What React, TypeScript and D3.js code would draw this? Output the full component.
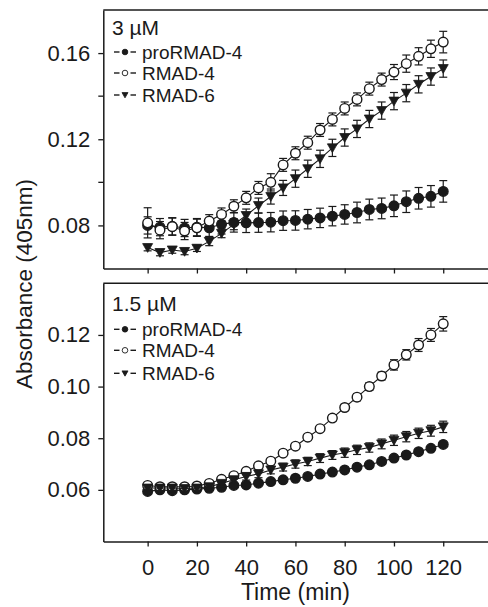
import React, { useEffect, useRef } from "react";
import * as d3 from "d3";

// time points (min)
const times = [
  0, 5, 10, 15, 20, 25, 30, 35, 40, 45, 50, 55, 60, 65, 70, 75, 80, 85, 90,
  95, 100, 105, 110, 115, 120,
];
const xTicks = [0, 20, 40, 60, 80, 100, 120];

// 3 uM panel
const topPro = [
  0.08, 0.0792, 0.0796, 0.0788, 0.0792, 0.0789, 0.0805, 0.0814, 0.0812,
  0.0813, 0.0815, 0.0822, 0.0823, 0.0829, 0.0835, 0.0843, 0.0851, 0.086,
  0.0874, 0.0879, 0.0891, 0.091, 0.0926, 0.0935, 0.0958,
];
const topProErr = [
  0.004, 0.004, 0.004, 0.004, 0.004, 0.004, 0.0045, 0.0045, 0.0045, 0.0045,
  0.0045, 0.0045, 0.0045, 0.0045, 0.0045, 0.0045, 0.0045, 0.0048, 0.0048,
  0.0048, 0.005, 0.005, 0.005, 0.005, 0.005,
];
const topR4 = [
  0.0812, 0.0778, 0.0794, 0.0774, 0.0789, 0.082, 0.0851, 0.0889, 0.0928,
  0.0974, 0.1, 0.1081, 0.1135, 0.1184, 0.1243, 0.1292, 0.1343, 0.1385,
  0.1435, 0.1477, 0.1512, 0.1551, 0.1585, 0.162, 0.1651,
];
const topR4Err = [
  0.007, 0.004, 0.004, 0.004, 0.004, 0.003, 0.003, 0.003, 0.003, 0.003,
  0.004, 0.003, 0.003, 0.003, 0.003, 0.003, 0.003, 0.003, 0.003, 0.003,
  0.0035, 0.004, 0.004, 0.004, 0.005,
];
const topR6 = [
  0.0697, 0.0674, 0.0686, 0.0679, 0.0694, 0.0726, 0.0763, 0.0805, 0.0846,
  0.0892, 0.0934, 0.0974, 0.1017, 0.1063, 0.1109, 0.116, 0.1208, 0.1248,
  0.1294, 0.1333, 0.1377, 0.1414, 0.1455, 0.1491, 0.1528,
];
const topR6Err = [
  0.0015, 0.0015, 0.0015, 0.0015, 0.0015, 0.002, 0.002, 0.0025, 0.003,
  0.0035, 0.0035, 0.0035, 0.004, 0.004, 0.004, 0.004, 0.004, 0.004, 0.004,
  0.004, 0.004, 0.004, 0.004, 0.004, 0.004,
];

// 1.5 uM panel
const botPro = [
  0.0594, 0.06, 0.0597, 0.06, 0.0603, 0.0606, 0.061, 0.0617, 0.0619, 0.0626,
  0.0632, 0.0639, 0.0645, 0.0652, 0.0661, 0.0669, 0.0677, 0.0688, 0.0697,
  0.071, 0.0723, 0.0735, 0.0748, 0.0761, 0.0776,
];
const botProErr = [
  0.0008, 0.0008, 0.0008, 0.0008, 0.0008, 0.0008, 0.0008, 0.0008, 0.0008,
  0.0008, 0.0008, 0.0008, 0.0008, 0.0008, 0.0008, 0.0008, 0.0008, 0.0008,
  0.0008, 0.0008, 0.0008, 0.0008, 0.0008, 0.0008, 0.0008,
];
const botR4 = [
  0.0617, 0.0612, 0.0612, 0.0612, 0.0615, 0.0625, 0.0641, 0.0655, 0.0672,
  0.0693, 0.0711, 0.0742, 0.0769, 0.0804, 0.0837, 0.0878, 0.0919, 0.0959,
  0.1, 0.1041, 0.1084, 0.1123, 0.1161, 0.12, 0.1243,
];
const botR4Err = [
  0.001, 0.001, 0.001, 0.001, 0.001, 0.001, 0.001, 0.001, 0.001, 0.001,
  0.001, 0.001, 0.001, 0.001, 0.001, 0.0012, 0.0012, 0.0014, 0.0015, 0.0015,
  0.002, 0.002, 0.0025, 0.0025, 0.0028,
];
const botR6 = [
  0.0607, 0.0607, 0.0607, 0.0605, 0.0607, 0.0612, 0.0625, 0.0639, 0.0652,
  0.0662, 0.0677, 0.0688, 0.07, 0.071, 0.0723, 0.0735, 0.0744, 0.0755,
  0.0764, 0.0778, 0.0792, 0.0806, 0.0819, 0.0829, 0.0844,
];
const botR6Err = [
  0.001, 0.001, 0.001, 0.001, 0.001, 0.0012, 0.0012, 0.0013, 0.0014, 0.0015,
  0.0015, 0.0015, 0.0016, 0.0016, 0.0017, 0.0017, 0.0018, 0.0018, 0.0018,
  0.0019, 0.002, 0.002, 0.002, 0.0021, 0.0022,
];

const seriesNames = ["proRMAD-4", "RMAD-4", "RMAD-6"];
const topYTicks = [0.08, 0.12, 0.16];
const topYMinor = [0.1, 0.14];
const botYTicks = [0.06, 0.08, 0.1, 0.12];

const FONT = "'Liberation Sans', Arial, sans-serif";
const INK = "#1a1a1a";

type Series = { name: string; vals: number[]; errs: number[]; shape: string };

const trianglePath = (s: number) =>
  `M${-s},${-s * 0.8}L${s},${-s * 0.8}L0,${s * 0.95}Z`;

const App = () => {
  const svgRef = useRef<SVGSVGElement>(null);

  useEffect(() => {
    const width = 488;
    const height = 607;
    const left = 103.3;

    const x = d3.scaleLinear().domain([-18, 140]).range([left, 492.5]);

    const svg = d3.select(svgRef.current);
    svg.selectAll("*").remove();

    const panels = [
      {
        title: "3 µM",
        top: 10,
        bottom: 268.5,
        domain: [0.06, 0.18],
        ticks: topYTicks,
        minor: topYMinor,
        xLabels: false,
        legendTop: 17,
        legendRows: [42, 63, 85],
        series: [
          { name: seriesNames[0], vals: topPro, errs: topProErr, shape: "filled" },
          { name: seriesNames[1], vals: topR4, errs: topR4Err, shape: "open" },
          { name: seriesNames[2], vals: topR6, errs: topR6Err, shape: "tri" },
        ] as Series[],
      },
      {
        title: "1.5 µM",
        top: 283.3,
        bottom: 541.5,
        domain: [0.04, 0.14],
        ticks: botYTicks,
        minor: [] as number[],
        xLabels: true,
        legendTop: 20,
        legendRows: [46, 67, 90],
        series: [
          { name: seriesNames[0], vals: botPro, errs: botProErr, shape: "filled" },
          { name: seriesNames[1], vals: botR4, errs: botR4Err, shape: "open" },
          { name: seriesNames[2], vals: botR6, errs: botR6Err, shape: "tri" },
        ] as Series[],
      },
    ];

    const drawMarker = (
      g: d3.Selection<SVGGElement, unknown, null, undefined>,
      shape: string,
      cx: number,
      cy: number,
      r: number,
      sw: number
    ) => {
      if (shape === "tri") {
        g.append("path")
          .attr("d", trianglePath(r))
          .attr("transform", `translate(${cx},${cy})`)
          .attr("fill", INK)
          .attr("stroke", INK)
          .attr("stroke-width", 0.8);
      } else {
        g.append("circle")
          .attr("cx", cx)
          .attr("cy", cy)
          .attr("r", r)
          .attr("fill", shape === "open" ? "#fff" : INK)
          .attr("stroke", INK)
          .attr("stroke-width", sw);
      }
    };

    panels.forEach((p) => {
      const y = d3
        .scaleLinear()
        .domain(p.domain)
        .range([p.bottom, p.top]);

      const g = svg.append("g");

      // frame top edge (right side runs off the picture)
      g.append("line")
        .attr("x1", left)
        .attr("x2", width + 10)
        .attr("y1", p.top)
        .attr("y2", p.top)
        .attr("stroke", INK)
        .attr("stroke-width", 1.5);

      // y axis
      const yAxis = g
        .append("g")
        .attr("transform", `translate(${left},0)`)
        .call(
          d3
            .axisLeft(y)
            .tickValues(p.ticks)
            .tickSize(5)
            .tickSizeOuter(0)
            .tickPadding(8)
            .tickFormat(d3.format(".2f") as any)
        );
      yAxis.select(".domain").attr("stroke", INK).attr("stroke-width", 1.5);
      yAxis.selectAll(".tick line").attr("stroke", INK).attr("stroke-width", 1.3);
      yAxis
        .selectAll("text")
        .attr("font-family", FONT)
        .attr("font-size", 22)
        .attr("fill", INK);
      p.minor.forEach((v) => {
        g.append("line")
          .attr("x1", left - 5)
          .attr("x2", left)
          .attr("y1", y(v))
          .attr("y2", y(v))
          .attr("stroke", INK)
          .attr("stroke-width", 1.3);
      });

      // x axis
      const xAxis = g
        .append("g")
        .attr("transform", `translate(0,${p.bottom})`)
        .call(
          d3
            .axisBottom(x)
            .tickValues(xTicks)
            .tickSize(5)
            .tickSizeOuter(0)
            .tickPadding(12.5)
            .tickFormat((d) => (p.xLabels ? String(d) : ""))
        );
      xAxis.select(".domain").attr("stroke", INK).attr("stroke-width", 1.5);
      xAxis.selectAll(".tick line").attr("stroke", INK).attr("stroke-width", 1.3);
      xAxis
        .selectAll("text")
        .attr("font-family", FONT)
        .attr("font-size", 22)
        .attr("fill", INK);

      // data
      const line = d3
        .line<number>()
        .x((_, i) => x(times[i]))
        .y((v) => y(v));

      p.series.forEach((s) => {
        const sg = g.append("g");
        sg.append("path")
          .attr("d", line(s.vals))
          .attr("fill", "none")
          .attr("stroke", INK)
          .attr("stroke-width", 1.1);

        s.vals.forEach((v, i) => {
          const cx = x(times[i]);
          const y0 = y(v - s.errs[i]);
          const y1 = y(v + s.errs[i]);
          sg.append("line")
            .attr("x1", cx)
            .attr("x2", cx)
            .attr("y1", y0)
            .attr("y2", y1)
            .attr("stroke", INK)
            .attr("stroke-width", 1.2);
          [y0, y1].forEach((yy) => {
            sg.append("line")
              .attr("x1", cx - 4)
              .attr("x2", cx + 4)
              .attr("y1", yy)
              .attr("y2", yy)
              .attr("stroke", INK)
              .attr("stroke-width", 1.2);
          });
        });
        s.vals.forEach((v, i) => {
          drawMarker(sg, s.shape, x(times[i]), y(v), s.shape === "tri" ? 5 : 4.8, 1.4);
        });
      });

      // legend
      g.append("text")
        .attr("x", 112)
        .attr("y", p.top + p.legendTop)
        .attr("dominant-baseline", "central")
        .attr("font-family", FONT)
        .attr("font-size", 21)
        .attr("fill", INK)
        .text(p.title);

      p.series.forEach((s, k) => {
        const ly = p.top + p.legendRows[k];
        const lg = g.append("g");
        [
          [114, 119.5],
          [130.5, 136],
        ].forEach(([a, b]) => {
          lg.append("line")
            .attr("x1", a)
            .attr("x2", b)
            .attr("y1", ly)
            .attr("y2", ly)
            .attr("stroke", INK)
            .attr("stroke-width", 1.4);
        });
        drawMarker(lg, s.shape, 125, ly, s.shape === "tri" ? 3 : 2.8, 0.9);
        lg.append("text")
          .attr("x", 142)
          .attr("y", ly)
          .attr("dominant-baseline", "central")
          .attr("font-family", FONT)
          .attr("font-size", 19)
          .attr("fill", INK)
          .text(s.name);
      });
    });

    // axis titles
    svg
      .append("text")
      .attr("transform", `translate(24,284) rotate(-90)`)
      .attr("text-anchor", "middle")
      .attr("dominant-baseline", "central")
      .attr("font-family", FONT)
      .attr("font-size", 22.5)
      .attr("fill", INK)
      .text("Absorbance (405nm)");

    svg
      .append("text")
      .attr("x", x(60))
      .attr("y", 592)
      .attr("text-anchor", "middle")
      .attr("dominant-baseline", "central")
      .attr("font-family", FONT)
      .attr("font-size", 23)
      .attr("fill", INK)
      .text("Time (min)");

    svg.attr("width", width).attr("height", height);
  }, []);

  return (
    <svg
      ref={svgRef}
      style={{ position: "absolute", left: 0, top: 0, background: "#fff" }}
    />
  );
};

export default App;
